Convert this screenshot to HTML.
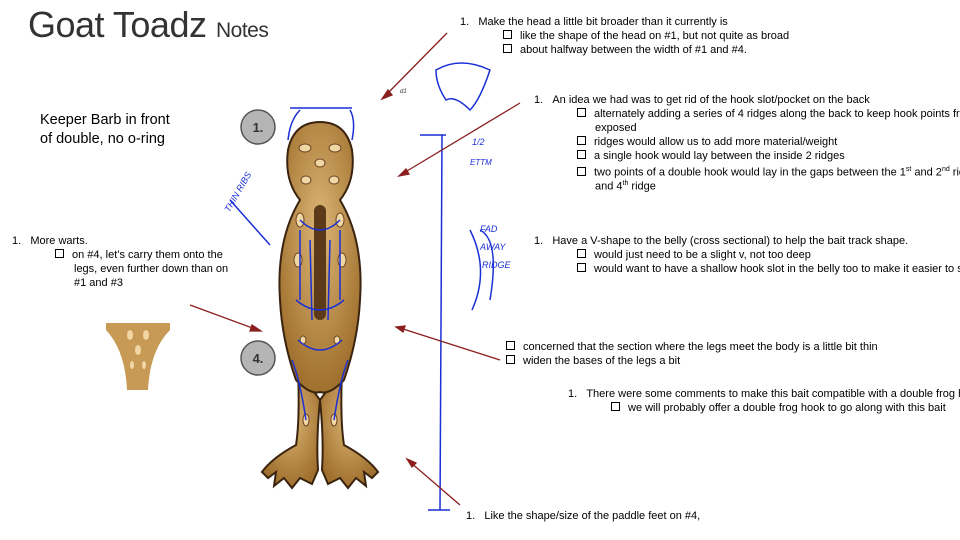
<!DOCTYPE html>
<html><head><meta charset="utf-8"><style>
body{margin:0;width:960px;height:540px;overflow:hidden;background:#fff;font-family:"Liberation Sans",sans-serif;color:#000;position:relative}
.t{position:absolute;font-size:11px;line-height:14px;white-space:nowrap}
.b{display:inline-block;width:7px;height:7px;border:1px solid #000;margin-right:8px;vertical-align:0px}
</style></head><body>
<div style="position:absolute;left:28px;top:4px;font-size:36px;color:#333;letter-spacing:-0.5px">Goat Toadz <span style="font-size:21px">Notes</span></div>
<div class="t" style="left:40px;top:111px;font-size:14.5px;line-height:19px">Keeper Barb in front<br>of double, no o-ring</div>

<div class="t" style="left:460px;top:15px">1.&nbsp;&nbsp;&nbsp;Make the head a little bit broader than it currently is</div>
<div class="t" style="left:503px;top:29px"><span class="b"></span>like the shape of the head on #1, but not quite as broad</div>
<div class="t" style="left:503px;top:43px"><span class="b"></span>about halfway between the width of #1 and #4.</div>

<div class="t" style="left:534px;top:93px">1.&nbsp;&nbsp;&nbsp;An idea we had was to get rid of the hook slot/pocket on the back</div>
<div class="t" style="left:577px;top:107px"><span class="b"></span>alternately adding a series of 4 ridges along the back to keep hook points from</div>
<div class="t" style="left:595px;top:121px">exposed</div>
<div class="t" style="left:577px;top:135px"><span class="b"></span>ridges would allow us to add more material/weight</div>
<div class="t" style="left:577px;top:149px"><span class="b"></span>a single hook would lay between the inside 2 ridges</div>
<div class="t" style="left:577px;top:163px"><span class="b"></span>two points of a double hook would lay in the gaps between the 1<sup style="font-size:7px">st</sup> and 2<sup style="font-size:7px">nd</sup> ridge</div>
<div class="t" style="left:595px;top:177px">and 4<sup style="font-size:7px">th</sup> ridge</div>

<div class="t" style="left:12px;top:234px">1.&nbsp;&nbsp;&nbsp;More warts.</div>
<div class="t" style="left:55px;top:248px"><span class="b"></span>on #4, let’s carry them onto the</div>
<div class="t" style="left:74px;top:262px">legs, even further down than on</div>
<div class="t" style="left:74px;top:276px">#1 and #3</div>

<div class="t" style="left:534px;top:234px">1.&nbsp;&nbsp;&nbsp;Have a V-shape to the belly (cross sectional) to help the bait track shape.</div>
<div class="t" style="left:577px;top:248px"><span class="b"></span>would just need to be a slight v, not too deep</div>
<div class="t" style="left:577px;top:262px"><span class="b"></span>would want to have a shallow hook slot in the belly too to make it easier to set</div>

<div class="t" style="left:506px;top:340px"><span class="b"></span>concerned that the section where the legs meet the body is a little bit thin</div>
<div class="t" style="left:506px;top:354px"><span class="b"></span>widen the bases of the legs a bit</div>

<div class="t" style="left:568px;top:387px">1.&nbsp;&nbsp;&nbsp;There were some comments to make this bait compatible with a double frog ho</div>
<div class="t" style="left:611px;top:401px"><span class="b"></span>we will probably offer a double frog hook to go along with this bait</div>

<div class="t" style="left:466px;top:509px">1.&nbsp;&nbsp;&nbsp;Like the shape/size of the paddle feet on #4,</div>

<svg width="960" height="540" style="position:absolute;left:0;top:0">
<defs><radialGradient id="g" cx="50%" cy="40%" r="60%"><stop offset="0" stop-color="#dcb676"/><stop offset="1" stop-color="#a0702e"/></radialGradient></defs>
<!-- small thumbnail -->
<path d="M106 323 H170 V330 Q150 350 148 390 H127 Q125 350 106 330Z" fill="#c79a55"/>
<g fill="#f0d7a5"><ellipse cx="130" cy="335" rx="3" ry="5"/><ellipse cx="146" cy="335" rx="3" ry="5"/><ellipse cx="138" cy="350" rx="3" ry="5"/><ellipse cx="132" cy="365" rx="2" ry="4"/><ellipse cx="144" cy="365" rx="2" ry="4"/></g>
<!-- legs -->
<path d="M298 370 Q300 420 296 445 Q272 458 262 472 L268 478 L276 472 L274 486 L284 478 L292 488 L300 478 L312 484 L318 470 Q316 440 320 400 Z" fill="url(#g)" stroke="#3a2410" stroke-width="2"/>
<path d="M342 370 Q340 420 344 445 Q368 458 378 472 L372 478 L364 472 L366 486 L356 478 L348 488 L340 478 L328 484 L322 470 Q324 440 320 400 Z" fill="url(#g)" stroke="#3a2410" stroke-width="2"/>
<!-- body -->
<path d="M320 122 Q294 122 288 150 Q284 180 300 200 Q276 240 280 300 Q282 340 296 380 Q310 395 320 392 Q330 395 344 380 Q358 340 360 300 Q364 240 340 200 Q356 180 352 150 Q346 122 320 122Z" fill="url(#g)" stroke="#3a2410" stroke-width="2"/>
<rect x="314" y="205" width="12" height="115" rx="6" fill="#5a3a18"/>
<g fill="#f0d7a5" stroke="#6b4520" stroke-width="1">
<ellipse cx="305" cy="148" rx="6" ry="4"/><ellipse cx="335" cy="148" rx="6" ry="4"/>
<ellipse cx="320" cy="163" rx="5" ry="4"/><ellipse cx="306" cy="180" rx="5" ry="4"/><ellipse cx="334" cy="180" rx="5" ry="4"/>
<ellipse cx="300" cy="220" rx="4" ry="7"/><ellipse cx="340" cy="220" rx="4" ry="7"/>
<ellipse cx="298" cy="260" rx="4" ry="7"/><ellipse cx="342" cy="260" rx="4" ry="7"/>
<ellipse cx="306" cy="420" rx="3" ry="6"/><ellipse cx="334" cy="420" rx="3" ry="6"/>
<ellipse cx="303" cy="340" rx="3" ry="4"/><ellipse cx="337" cy="340" rx="3" ry="4"/>
</g>
<!-- blue sketches -->
<g fill="none" stroke="#1a2fd6" stroke-width="1.5">
<path d="M288 140 Q290 120 300 110 M350 110 Q356 120 352 140"/>
<line x1="290" y1="108" x2="352" y2="108"/>
<path d="M300 220 Q320 240 340 220 M296 300 Q320 320 344 300 M298 340 Q320 360 342 340"/>
<path d="M300 230 L300 300 M340 230 L340 300 M310 240 L312 320 M330 240 L328 320"/>
<path d="M292 360 Q300 380 306 420 M348 360 Q340 380 334 420"/>
<line x1="442" y1="135" x2="440" y2="510"/><line x1="420" y1="135" x2="446" y2="135"/>
<line x1="428" y1="510" x2="450" y2="510"/>
<path d="M436 70 Q460 56 490 70 Q480 100 470 110 Q455 95 446 100 Q436 85 436 70Z"/>
<path d="M480 230 Q500 240 490 300 M470 230 Q490 270 472 310"/>
<path d="M230 200 L270 245"/>
</g>
<g font-family="Liberation Sans" font-size="9" fill="#1a2fd6" font-style="italic">
<text x="222" y="210" transform="rotate(-60 228 205)">THIN RIBS</text>
<text x="472" y="145">1/2</text><text x="470" y="165" font-size="8">ETTM</text>
<text x="480" y="232">FAD</text><text x="480" y="250">AWAY</text><text x="482" y="268">RIDGE</text>
<text x="400" y="93" fill="#333" font-size="6">d1</text>
</g>
<!-- arrows -->
<g stroke="#8b1e1e" stroke-width="1.3" fill="#8b1e1e">
<line x1="447" y1="33" x2="385" y2="96"/><polygon points="382,99 388,90 392,95"/>
<line x1="520" y1="103" x2="402" y2="174"/><polygon points="399,176 406,169 409,174"/>
<line x1="190" y1="305" x2="258" y2="330"/><polygon points="261,331 252,325 250,331"/>
<line x1="500" y1="360" x2="400" y2="328"/><polygon points="396,327 405,326 403,332"/>
<line x1="460" y1="505" x2="410" y2="462"/><polygon points="407,459 416,463 412,467"/>
</g>
<!-- circles -->
<g>
<circle cx="258" cy="127" r="17" fill="#b5b5b5" stroke="#555" stroke-width="1.5"/>
<circle cx="258" cy="358" r="17" fill="#b5b5b5" stroke="#555" stroke-width="1.5"/>
<text x="258" y="132" text-anchor="middle" font-family="Liberation Sans" font-size="13" font-weight="bold" fill="#333">1.</text>
<text x="258" y="363" text-anchor="middle" font-family="Liberation Sans" font-size="13" font-weight="bold" fill="#333">4.</text>
</g>
</svg>
</body></html>
